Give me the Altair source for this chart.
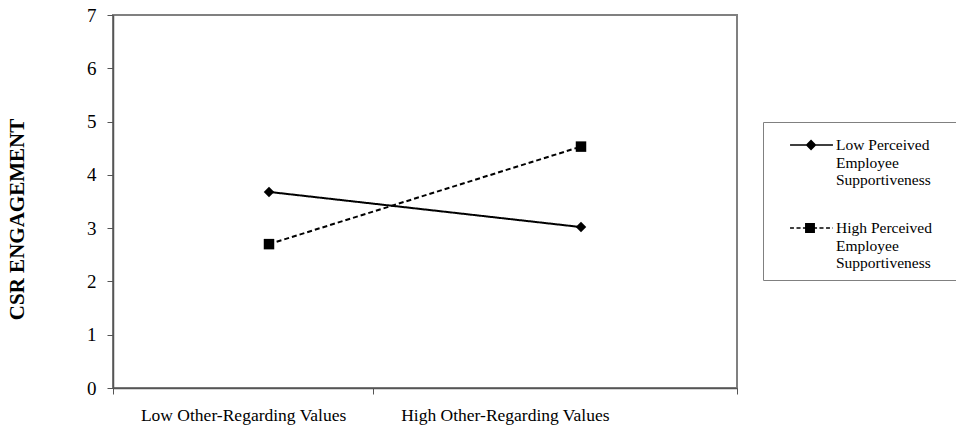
import altair as alt
import pandas as pd

# ---- data ----
categories = ["Low Other-Regarding Values", "High Other-Regarding Values"]
series = ["Low Perceived Employee Supportiveness", "High Perceived Employee Supportiveness"]
low_support = [3.68, 3.02]
high_support = [2.70, 4.53]

rows = []
for s, vals in zip(series, [low_support, high_support]):
    for i, (c, v) in enumerate(zip(categories, vals)):
        rows.append({"category": c, "idx": i, "series": s, "value": v})
df = pd.DataFrame(rows)

FONT = "Liberation Serif"

# legend symbols: line + marker drawn as filled custom paths
diamond_sym = ("M0.27,-0.05H3.13V0.05H0.27Z"
               "M1.67,-0.36L2.03,0L1.67,0.36L1.31,0Z")
square_sym = ("M0.27,-0.05H0.53V0.05H0.27Z"
              "M0.70,-0.05H0.97V0.05H0.70Z"
              "M1.13,-0.05H1.27V0.05H1.13Z"
              "M1.27,-0.33H1.93V0.33H1.27Z"
              "M1.93,-0.05H2.07V0.05H1.93Z"
              "M2.23,-0.05H2.5V0.05H2.23Z"
              "M2.67,-0.05H2.93V0.05H2.67Z"
              "M3.1,-0.05H3.13V0.05H3.1Z")

x_scale = alt.Scale(domain=[-0.5, 1.5], nice=False, zero=False)
y_scale = alt.Scale(domain=[0, 7], nice=False)

label_expr = (f"abs(datum.value + 0.083) < 0.01 ? '{categories[0]}' : "
              f"abs(datum.value - 0.756) < 0.01 ? '{categories[1]}' : ''")
tick_test = "abs(datum.value + 0.083) > 0.01 && abs(datum.value - 0.756) > 0.01"

x_enc = alt.X("idx:Q", scale=x_scale, title=None,
              axis=alt.Axis(values=[-0.5, -0.083, 0.333, 0.756, 1.5], labelExpr=label_expr,
                            grid=False, tickSize=6, labelPadding=12,
                            tickOpacity={"condition": {"test": tick_test, "value": 1}, "value": 0},
                            labelFont=FONT, labelFontSize=17.5, labelColor="black",
                            labelLimit=500,
                            domainColor="#555", domainWidth=1.5, tickColor="#555",
                            labelFlush=False, labelOverlap=False))
y_enc = alt.Y("value:Q", scale=y_scale,
              axis=alt.Axis(values=[0, 1, 2, 3, 4, 5, 6, 7], grid=False, tickSize=6,
                            labelPadding=11, labelFont=FONT, labelFontSize=19,
                            labelColor="black", domainColor="#555", domainWidth=1.5,
                            tickColor="#555", title="CSR ENGAGEMENT",
                            titleFont=FONT, titleFontSize=21, titleFontWeight="bold",
                            titleColor="black", titleAngle=-90, titleX=-96, titleY=204,
                            titleAlign="center", titleBaseline="middle"))

lines = alt.Chart(df).mark_line(color="black", strokeWidth=2).encode(
    x=x_enc, y=y_enc,
    detail="series:N",
    strokeDash=alt.StrokeDash("series:N", scale=alt.Scale(domain=series, range=[[1, 0], [5, 3]]), legend=None),
)

points = alt.Chart(df).mark_point(filled=True, color="black", opacity=1, size=110).encode(
    x=x_enc, y=y_enc,
    shape=alt.Shape("series:N", scale=alt.Scale(domain=series, range=["diamond", "square"]), legend=None),
)

# trailing NBSPs (kept by a zero-width char) widen the legend box past the page edge
pad = "\u00a0" * 8 + "\u200b"
legend_label_expr = (
    f"split(replace(replace(datum.label, 'Perceived ', 'Perceived{pad}|'),"
    " 'Employee ', 'Employee|'), '|')"
)

legend_layer = alt.Chart(df).transform_filter("false").mark_point(
    filled=True, color="black", size=900, opacity=1
).encode(
    x=x_enc, y=y_enc,
    shape=alt.Shape("series:N", scale=alt.Scale(domain=series, range=[diamond_sym, square_sym]),
                    legend=alt.Legend(title=None, orient="none", legendX=650, legendY=107,
                                      padding=8, strokeColor="#808080", fillColor="white",
                                      labelFont=FONT, labelFontSize=15.5, labelColor="black",
                                      labelExpr=legend_label_expr,
                                      labelOffset=35, labelLimit=400, rowPadding=24,
                                      symbolSize=900, symbolFillColor="black",
                                      symbolStrokeColor="black", symbolStrokeWidth=0,
                                      symbolOpacity=1, labelBaseline="middle")),
)

chart = alt.layer(lines, points, legend_layer).resolve_scale(shape="independent").properties(
    width=624, height=373,
    background="white",
    autosize=alt.AutoSizeParams(type="none"),
    padding={"left": 113, "top": 15, "right": 219, "bottom": 43},
).configure_view(stroke="#808080", strokeWidth=2)

chart.save("out.html", embed_options={"renderer": "svg", "actions": False})
